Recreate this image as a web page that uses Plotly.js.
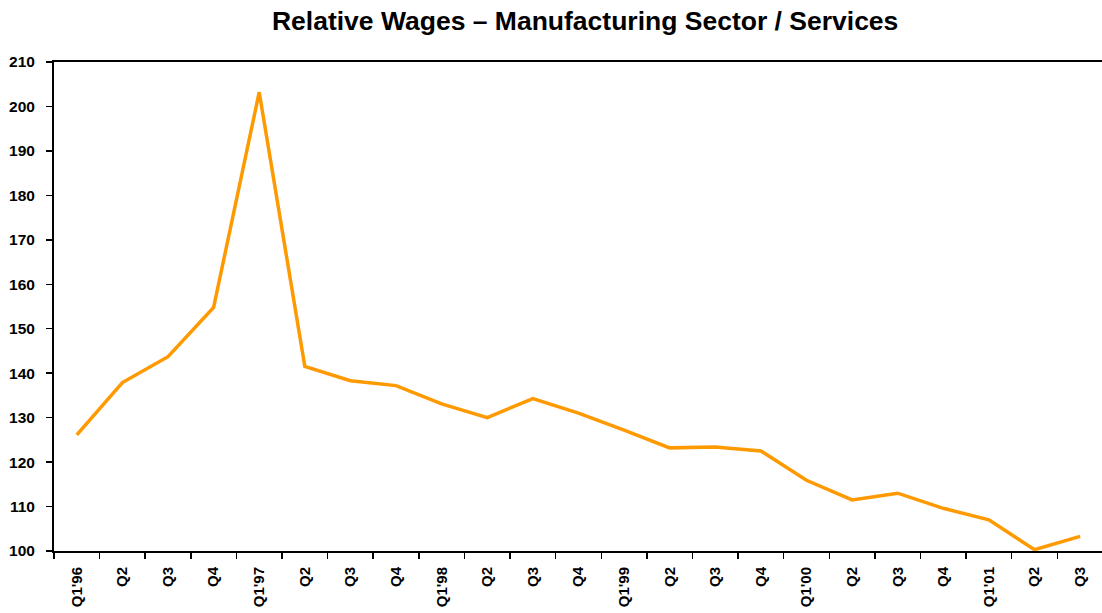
<!DOCTYPE html>
<html>
<head>
<meta charset="utf-8">
<script src="https://cdn.plot.ly/plotly-3.0.1.min.js"></script>
<style>html,body{margin:0;padding:0;background:#fff;}#chart{width:1102px;height:613px;}</style>
</head>
<body>
<div id="chart"></div>
<script>
const categories = ["Q1'96","Q2","Q3","Q4","Q1'97","Q2","Q3","Q4","Q1'98","Q2","Q3","Q4","Q1'99","Q2","Q3","Q4","Q1'00","Q2","Q3","Q4","Q1'01","Q2","Q3"];
const relativeWages = [126.1,137.9,143.7,154.8,203.2,141.5,138.3,137.2,133.1,130.0,134.3,131.0,127.2,123.2,123.4,122.5,115.9,111.5,113.0,109.6,107.0,100.3,103.3];
const yTicks = [100,110,120,130,140,150,160,170,180,190,200,210];

const xIdx = categories.map((_, i) => i);

const trace = {
  x: xIdx,
  y: relativeWages,
  type: 'scatter',
  mode: 'lines',
  line: {color: '#FF9900', width: 3.5},
  hoverinfo: 'skip'
};

const FONT = 'Liberation Sans, Arial, sans-serif';

const layout = {
  width: 1102, height: 613,
  margin: {l: 54, r: 0, t: 62, b: 62},
  paper_bgcolor: '#fff', plot_bgcolor: '#fff',
  showlegend: false,
  title: {text: 'Relative Wages – Manufacturing Sector / Services', x: 0.531, xanchor: 'center', y: 0.967, yanchor: 'middle',
          font: {family: FONT, size: 26.5, color: '#000', weight: 'bold'}},
  xaxis: {
    range: [-0.5, 22.48],
    tickmode: 'array', tickvals: xIdx, ticktext: categories,
    tickangle: -90, ticks: '', showgrid: false, zeroline: false,
    ticklabelstandoff: 8,
    showline: true, linecolor: '#000', linewidth: 2, mirror: true,
    tickfont: {family: FONT, size: 15, color: '#000', weight: 'bold'},
    minor: {tick0: 0.5, dtick: 1, ticks: 'outside', ticklen: 6, tickwidth: 1.5, tickcolor: '#000', showgrid: false}
  },
  yaxis: {
    range: [100, 210],
    tickmode: 'array', tickvals: yTicks,
    ticks: 'outside', ticklen: 6, tickwidth: 1.5, tickcolor: '#000',
    ticklabelstandoff: 8,
    showgrid: false, zeroline: false,
    showline: true, linecolor: '#000', linewidth: 2,
    tickfont: {family: FONT, size: 15.5, color: '#000', weight: 'bold'}
  }
};

Plotly.newPlot('chart', [trace], layout, {displayModeBar: false, staticPlot: true});
</script>
</body>
</html>
